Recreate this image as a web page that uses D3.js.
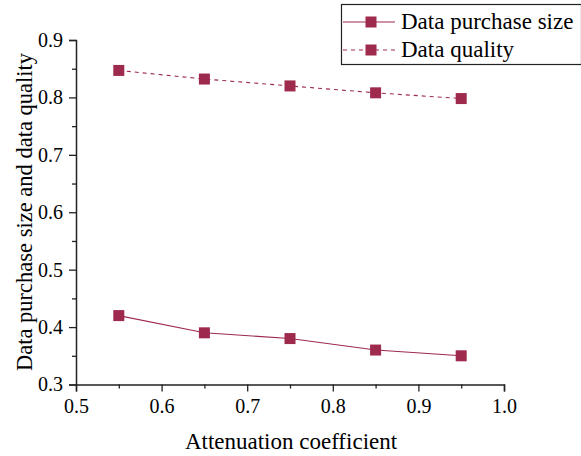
<!DOCTYPE html>
<html>
<head>
<meta charset="utf-8">
<script src="https://cdn.jsdelivr.net/npm/d3@7"></script>
<style>
  body { margin: 0; background: #fff; }
</style>
</head>
<body>
<svg id="chart" width="581" height="456"></svg>
<script>
// chart data
const coefficients = [0.55, 0.65, 0.75, 0.85, 0.95];
const purchaseSize = [0.42, 0.39, 0.38, 0.36, 0.35];
const dataQuality = [0.847, 0.832, 0.82, 0.808, 0.798];
const xTicks = [0.5, 0.6, 0.7, 0.8, 0.9, 1.0];
const yTicks = [0.3, 0.4, 0.5, 0.6, 0.7, 0.8, 0.9];
const seriesNames = ['Data purchase size', 'Data quality'];

const color = '#9e2a4e';
const font = '"Liberation Serif", "Times New Roman", serif';
const svg = d3.select('#chart');

const x = d3.scaleLinear().domain([0.5, 1.0]).range([76, 504]);
const y = d3.scaleLinear().domain([0.3, 0.9]).range([384.5, 40]);

// minor ticks sit halfway between the labelled ones
const minor = vals => vals.slice(0, -1).map((v, i) => (v + vals[i + 1]) / 2);

const xAxis = svg.append('g')
  .attr('transform', `translate(0,${y(0.3)})`)
  .call(d3.axisBottom(x).tickValues(xTicks).tickFormat(d3.format('.1f')).tickSize(7).tickPadding(7));
xAxis.append('g')
  .call(d3.axisBottom(x).tickValues(minor(xTicks)).tickFormat('').tickSize(4))
  .select('.domain').remove();

const yAxis = svg.append('g')
  .attr('transform', `translate(${x(0.5)},0)`)
  .call(d3.axisLeft(y).tickValues(yTicks).tickFormat(d3.format('.1f')).tickSize(7).tickPadding(6));
yAxis.append('g')
  .call(d3.axisLeft(y).tickValues(minor(yTicks)).tickFormat('').tickSize(4))
  .select('.domain').remove();

svg.selectAll('.domain').attr('stroke', '#222').attr('stroke-width', 1.5);
svg.selectAll('.tick line').attr('stroke', '#222').attr('stroke-width', 1.3);
svg.selectAll('.tick text')
  .style('font-family', font)
  .style('font-size', '20px')
  .attr('fill', '#000');

// axis titles
svg.append('text')
  .attr('x', 291).attr('y', 449)
  .attr('text-anchor', 'middle')
  .style('font-family', font)
  .style('font-size', '23px')
  .text('Attenuation coefficient');

svg.append('text')
  .attr('transform', 'translate(31.5,212) rotate(-90)')
  .attr('text-anchor', 'middle')
  .style('font-family', font)
  .style('font-size', '22.5px')
  .text('Data purchase size and data quality');

// series
const series = [
  { name: seriesNames[0], values: purchaseSize, dash: null },
  { name: seriesNames[1], values: dataQuality, dash: '4,4' }
];

const line = d3.line().x(d => x(d[0])).y(d => y(d[1]));
const m = 11;

series.forEach(s => {
  const pts = coefficients.map((c, i) => [c, s.values[i]]);
  svg.append('path')
    .datum(pts)
    .attr('fill', 'none')
    .attr('stroke', color)
    .attr('stroke-width', 1.1)
    .attr('stroke-dasharray', s.dash)
    .attr('d', line);
  svg.append('g').selectAll('rect')
    .data(pts)
    .join('rect')
    .attr('x', d => x(d[0]) - m / 2)
    .attr('y', d => y(d[1]) - m / 2)
    .attr('width', m).attr('height', m)
    .attr('fill', color);
});

// legend
const legend = svg.append('g');
legend.append('rect')
  .attr('x', 341.5).attr('y', 4.5)
  .attr('width', 240).attr('height', 60)
  .attr('fill', '#fff').attr('stroke', '#222').attr('stroke-width', 1.2);

series.forEach((s, i) => {
  const ly = 22 + i * 28;
  legend.append('line')
    .attr('x1', 343).attr('x2', 395)
    .attr('y1', ly).attr('y2', ly)
    .attr('stroke', color).attr('stroke-width', 1.1)
    .attr('stroke-dasharray', s.dash);
  legend.append('rect')
    .attr('x', 371 - m / 2).attr('y', ly - m / 2)
    .attr('width', m).attr('height', m)
    .attr('fill', color);
  legend.append('text')
    .attr('x', 401).attr('y', ly + 7)
    .style('font-family', font)
    .style('font-size', '23px')
    .text(s.name);
});
</script>
</body>
</html>
